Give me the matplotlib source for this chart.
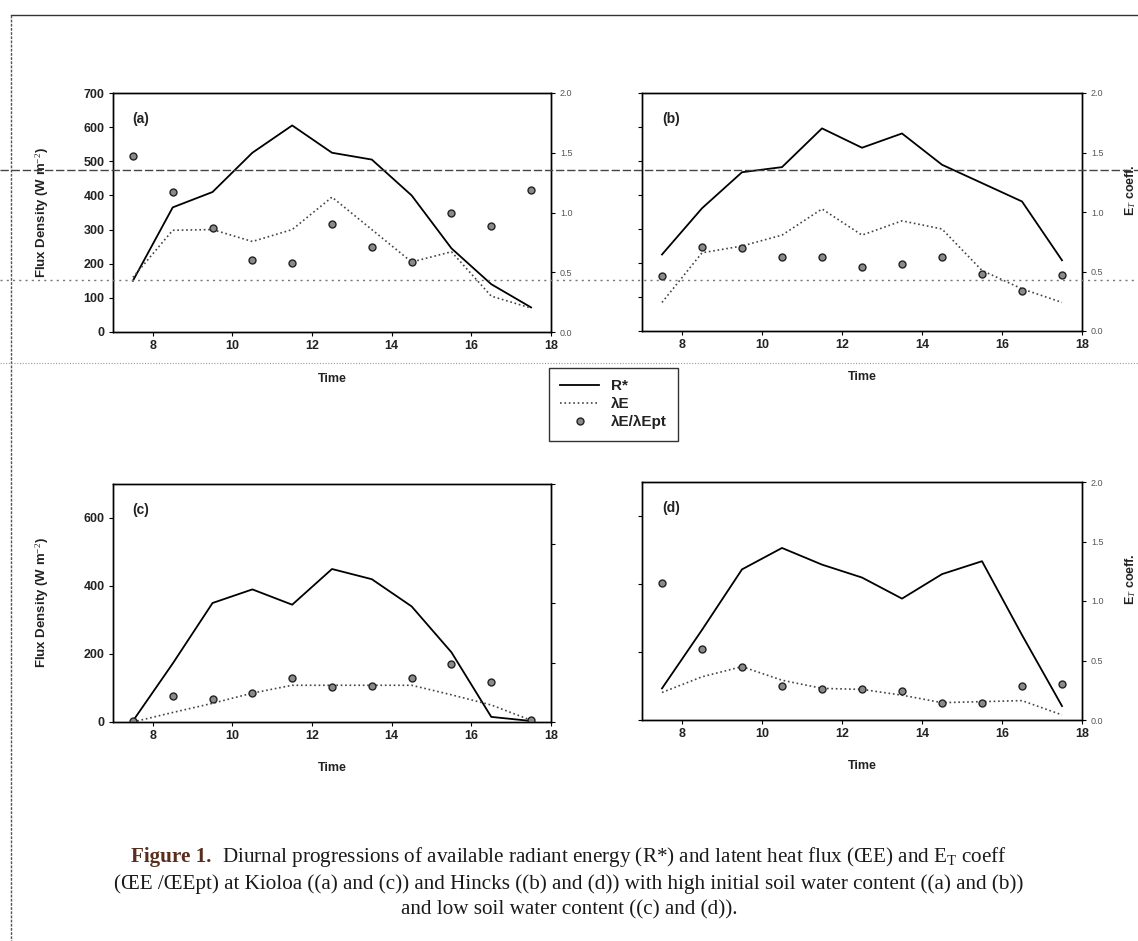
"""Figure 1 re-drawn: diurnal R*, latent heat flux and E_T coefficient, four panels."""
import numpy as np, matplotlib
matplotlib.use("Agg"); import matplotlib.pyplot as plt
from matplotlib.lines import Line2D

plt.rcParams['font.family'] = ['Liberation Sans', 'DejaVu Sans']
plt.rcParams['mathtext.fontset'] = 'custom'
plt.rcParams['mathtext.rm'] = 'Liberation Serif'
plt.rcParams['mathtext.it'] = 'Liberation Serif:italic'

hours = [7.5, 8.5, 9.5, 10.5, 11.5, 12.5, 13.5, 14.5, 15.5, 16.5, 17.5]

# (a) Kioloa, wet
rstar_a = [150, 365, 410, 525, 605, 525, 505, 400, 245, 140, 72]
le_a = [160, 298, 300, 265, 300, 395, 300, 205, 235, 105, 70]
ratio_a = [1.47, 1.17, 0.87, 0.60, 0.58, 0.90, 0.71, 0.585, 1.00, 0.89, 1.19]
# (b) Hincks, wet
rstar_b = [225, 361, 467, 482, 596, 539, 581, 489, 435, 381, 208]
le_b = [84, 230, 250, 282, 359, 282, 324, 300, 178, 124, 84]
ratio_b = [0.466, 0.706, 0.70, 0.62, 0.62, 0.537, 0.565, 0.62, 0.475, 0.333, 0.47]
# (c) Kioloa, dry
rstar_c = [3, 172, 350, 390, 345, 450, 420, 340, 205, 15, 3]
le_c = [0, 28, 55, 85, 108, 108, 108, 108, 80, 50, 5]
ratio_c = [0.01, 0.215, 0.195, 0.247, 0.37, 0.295, 0.30, 0.37, 0.49, 0.336, 0.014]
# (d) Hincks, dry
rstar_d = [93, 265, 443, 506, 457, 419, 357, 429, 467, 250, 41]
le_d = [81, 127, 157, 117, 93, 90, 73, 51, 54, 57, 15]
ratio_d = [1.152, 0.593, 0.448, 0.285, 0.257, 0.257, 0.246, 0.145, 0.145, 0.285, 0.30]

W, H = 1138, 941
fig = plt.figure(figsize=(W/100, H/100), dpi=100)

def rect(l, r, t, b):
    return [l/W, 1 - b/H, (r - l)/W, (b - t)/H]

panels = [
    ('(a)', rect(113, 551, 93, 332), rstar_a, le_a, ratio_a, np.arange(0, 701, 100), True, True),
    ('(b)', rect(642, 1082, 93, 331), rstar_b, le_b, ratio_b, np.arange(0, 701, 100), False, True),
    ('(c)', rect(113, 551, 484, 722), rstar_c, le_c, ratio_c, np.arange(0, 601, 200), True, False),
    ('(d)', rect(642, 1082, 482, 720), rstar_d, le_d, ratio_d, np.arange(0, 601, 200), False, True),
]

handles = None
for lab, pos, rs, le, ra, yt, left_lab, right_lab in panels:
    ax = fig.add_axes(pos)
    l1, = ax.plot(hours, rs, '-', color='black', lw=1.3)
    l2, = ax.plot(hours, le, ':', color='#444444', lw=1.2)
    ax.set_xlim(7, 18); ax.set_ylim(0, 700)
    ax.set_xticks([8, 10, 12, 14, 16, 18])
    ax.set_yticks(yt)
    ax.tick_params(direction='out', length=3, width=0.8, labelsize=9, pad=3)
    for t in ax.get_xticklabels() + ax.get_yticklabels():
        t.set_fontweight('bold'); t.set_color('#222222')
    if not left_lab:
        ax.set_yticklabels([])
    else:
        ax.set_ylabel('Flux Density (W m$^{-2}$)', fontsize=9.5, fontweight='bold', color='#222222')
        ax.yaxis.set_label_coords(-62/438, 0.5)
    ax.set_xlabel('Time', fontsize=9, fontweight='bold', color='#222222')
    ax.xaxis.set_label_coords(0.5, -0.17)
    ax.text(0.045, 0.92, lab, transform=ax.transAxes, fontsize=10, fontweight='bold',
            va='top', color='#222222')
    ax2 = ax.twinx()
    l3, = ax2.plot(hours, ra, 'o', ls='none', ms=5, mfc='#8a8a8a', mec='#222222', mew=1.0)
    ax2.set_ylim(0, 2.0)
    ax2.set_yticks([0.0, 0.5, 1.0, 1.5, 2.0])
    ax2.tick_params(direction='out', length=3, width=0.8, labelsize=6.5, labelcolor='#555555')
    if not right_lab:
        ax2.set_yticklabels([])
    else:
        ax2.set_yticklabels(['0.0', '0.5', '1.0', '1.5', '2.0'])
    if lab in ('(b)', '(d)'):
        ax2.set_ylabel('E$_T$ coeff.', fontsize=9, fontweight='bold', color='#222222',
                       family='Liberation Sans')
        ax2.yaxis.set_label_coords(481/440, 0.59)
    for a in (ax, ax2):
        for s in a.spines.values():
            s.set_linewidth(1.0)
    if handles is None:
        handles = [l1, l2, l3]

leg = fig.legend(handles, ['R*', '\u03bbE', '\u03bbE/\u03bbEpt'], loc='upper left',
                 bbox_to_anchor=(549/W, 1 - 368/H), frameon=True, fancybox=False,
                 edgecolor='black', fontsize=11, handlelength=2.5, borderpad=0.75,
                 labelspacing=0.25, handletextpad=0.8, borderaxespad=0)
leg.get_frame().set_linewidth(1.0)
for t in leg.get_texts():
    t.set_fontweight('bold'); t.set_color('#222222')

# scan artefacts: page border and stray lines
def fline(xs, ys, **kw):
    fig.add_artist(Line2D([x/W for x in xs], [1 - y/H for y in ys], transform=fig.transFigure, **kw))
fline([11, W], [15, 15], color='#333333', lw=1.0)
fline([11, 11], [15, H], color='#555555', lw=1.0, ls=(0, (2, 1)))
fline([0, W], [170, 170], color='#444444', lw=1.0, ls=(0, (6, 2)))
fline([0, W], [280, 280], color='#777777', lw=1.0, ls=(0, (1.5, 3)))
fline([0, W], [363, 363], color='#999999', lw=0.8, ls=(0, (1, 1.5)))

# caption
cap_kw = dict(fontsize=15.2, family='Liberation Serif', color='#1a1a1a', va='center')
fig.canvas.draw()
r = fig.canvas.get_renderer()
y1 = 1 - 857/H
t1 = fig.text(0, y1, 'Figure 1.', fontweight='bold', **{**cap_kw, 'color': '#5a2e1e'})
t2 = fig.text(0, y1, 'Diurnal progressions of available radiant energy (R*) and latent heat flux (\u0152E) and E$_{\\mathrm{T}}$ coeff', **cap_kw)
w1 = t1.get_window_extent(r).width; w2 = t2.get_window_extent(r).width
gap = 10
x0 = (W - (w1 + gap + w2))/2
t1.set_x(x0/W); t2.set_x((x0 + w1 + gap)/W)
fig.text(0.5, 1 - 884/H, '(\u0152E /\u0152Ept) at Kioloa ((a) and (c)) and Hincks ((b) and (d)) with high initial soil water content ((a) and (b))',
         ha='center', **cap_kw)
fig.text(0.5, 1 - 910/H, 'and low soil water content ((c) and (d)).', ha='center', **cap_kw)

fig.savefig('out.png', dpi=100)
